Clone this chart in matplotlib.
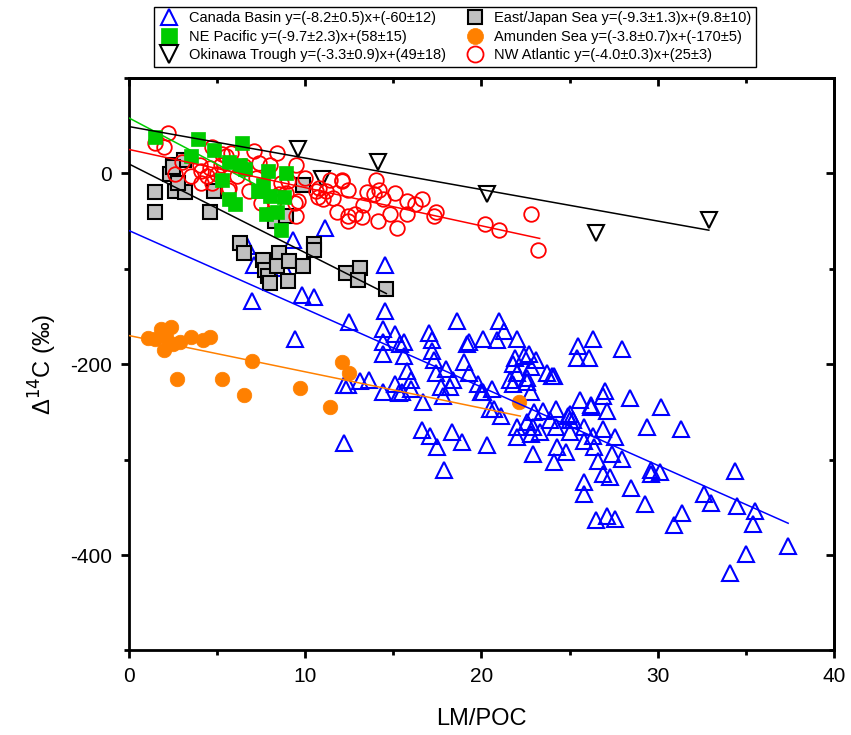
import numpy as np
import matplotlib
matplotlib.use("Agg")
import matplotlib.pyplot as plt

plt.rcParams['font.family'] = ['Liberation Sans', 'DejaVu Sans']
plt.rcParams['axes.unicode_minus'] = False

# ---- data ----
cb_x = [6.7, 7.1, 9.3, 11.1, 7.0, 9.8, 10.5, 8.8, 9.4, 12.5, 14.5, 12.2, 12.4, 12.2, 13.1, 13.6,
        14.4, 14.4, 14.4, 15.1, 15.4, 15.6, 14.4, 15.1, 15.3, 15.8, 17.0, 17.2, 17.2, 17.3, 18.6,
        19.2, 20.1, 20.9, 21.0, 21.3, 22.0, 17.4, 18.0, 19.0, 19.3, 18.2, 17.8, 16.7, 16.0, 16.6,
        17.1, 17.5, 18.3, 18.9, 17.9, 20.3, 20.1, 20.6, 20.7, 21.1, 21.8, 22.0, 21.6, 22.6, 22.4,
        22.0, 22.0, 22.9, 24.1, 25.8, 25.8, 22.9, 23.5, 23.9, 24.3, 24.8, 25.0, 25.8, 25.6, 26.2,
        25.5, 26.3, 26.1, 25.4, 28.0, 24.1, 27.0, 26.9, 28.4, 30.2, 27.1, 24.2, 25.0, 29.4, 31.3,
        26.9, 27.6, 25.0, 24.2, 25.8, 26.4, 27.4, 26.6, 28.0, 29.6, 29.6, 30.1, 26.9, 27.3, 28.5,
        34.4, 32.6, 33.0, 34.5, 35.5, 35.4, 31.4, 30.9, 29.3, 26.5, 27.1, 27.6, 37.4, 35.0, 34.1,
        15.6, 19.3, 21.9, 22.7, 23.1, 23.7, 24.0, 22.8, 21.8, 22.6, 22.8, 18.4, 17.7, 19.8, 20.0,
        16.0, 15.5, 20.5, 22.6, 23.0, 22.8, 23.3, 24.9, 25.2, 26.3, 26.2, 14.5, 8.6]
cb_y = [-76, -96, -70, -57, -134, -128, -130, -99, -174, -156, -144, -283, -222, -222, -218, -217,
        -163, -177, -189, -168, -179, -191, -229, -221, -230, -207, -167, -175, -186, -196, -155,
        -179, -174, -175, -155, -165, -174, -209, -205, -198, -209, -224, -233, -240, -226, -269,
        -275, -287, -271, -282, -311, -285, -229, -226, -247, -254, -200, -209, -217, -214, -191,
        -266, -276, -294, -303, -323, -336, -266, -249, -259, -287, -292, -259, -266, -238, -245,
        -181, -174, -193, -193, -184, -212, -228, -233, -235, -245, -249, -247, -252, -266, -268,
        -268, -276, -271, -266, -280, -287, -294, -301, -299, -311, -315, -313, -315, -318, -330,
        -312, -336, -345, -349, -354, -367, -356, -368, -347, -363, -359, -362, -391, -399, -419,
        -177, -177, -193, -189, -196, -209, -212, -203, -221, -219, -229, -217, -224, -221, -229,
        -217, -229, -247, -261, -250, -273, -271, -254, -259, -275, -243, -96, -87]

ej_x = [1.5, 1.5, 2.5, 2.3, 3.1, 2.6, 3.2, 2.8, 4.6, 4.8, 6.3, 6.5, 7.6, 7.7, 7.9, 8.0, 8.5, 8.4,
        9.1, 9.9, 9.0, 10.5, 10.5, 8.3, 8.9, 9.9, 12.3, 13.1, 13.0, 14.6, 2.5]
ej_y = [-20, -40, 9, -1, 14, -19, -20, -10, -41, -19, -73, -84, -91, -101, -108, -115, -83, -97,
        -92, -97, -113, -74, -80, -50, -45, -12, -104, -99, -112, -121, 7]

ne_x = [1.5, 3.9, 6.4, 3.5, 4.8, 5.7, 6.3, 6.6, 5.3, 7.9, 8.9, 7.6, 7.4, 8.0, 8.8, 5.7, 6.0, 7.8,
        8.4, 8.6, 7.3]
ne_y = [38, 36, 32, 18, 24, 12, 9, 5, -7, 2, 0, -12, -19, -24, -25, -27, -32, -43, -40, -59, -19]

am_x = [1.1, 1.8, 2.4, 1.5, 2.1, 2.5, 2.0, 2.9, 3.5, 4.2, 4.6, 2.7, 5.3, 6.5, 7.0, 9.7, 11.4,
        12.1, 12.5, 22.1]
am_y = [-173, -163, -161, -174, -172, -179, -185, -177, -171, -175, -171, -216, -216, -232, -197,
        -225, -245, -198, -209, -240]

ok_x = [9.6, 10.95, 14.1, 20.3, 26.5, 32.9]
ok_y = [26, -6, 12, -22, -62, -49]

nw_x = [2.2, 1.5, 2.0, 2.6, 3.5, 4.0, 4.7, 4.6, 5.3, 5.8, 4.4, 5.0, 5.6, 6.1, 6.8, 7.1, 7.4, 8.0,
        8.4, 8.5, 8.9, 9.5, 10.0, 9.4, 9.5, 8.2, 7.5, 10.8, 11.4, 11.6, 12.1, 12.4, 11.8, 12.4,
        12.4, 13.3, 12.8, 14.0, 13.9, 14.4, 14.1, 14.8, 15.1, 15.2, 10.7, 14.2, 13.2, 15.8, 16.6,
        16.2, 15.8, 17.4, 17.3, 20.2, 21.0, 22.8, 23.2, 4.1, 4.7, 4.1, 5.5, 5.2, 5.7, 8.6, 9.6,
        10.6, 11.0, 12.1, 3.0, 6.5, 7.2, 9.0, 11.2, 13.5]
nw_y = [42, 32, 28, -1, -3, 9, 28, 6, 20, 21, -3, -1, -17, -3, -19, 23, 11, 9, 21, -22, -21, 9,
        -5, -31, -45, -29, -31, -15, -7, -26, -7, -17, -41, -45, -50, -33, -43, -7, -22, -27, -50,
        -43, -21, -57, -25, -17, -46, -29, -27, -32, -43, -41, -45, -53, -59, -43, -80, -10, -10,
        2, 18, 9, -15, -10, -29, -19, -27, -8, 12, 8, -5, -8, -18, -20]

# fitted lines: slope, intercept, x extent
fit_slope = {'cb': -8.2, 'ne': -9.7, 'ok': -3.3, 'ej': -9.3, 'am': -3.8, 'nw': -4.0}
fit_icpt = {'cb': -60, 'ne': 58, 'ok': 49, 'ej': 9.8, 'am': -170, 'nw': 25}
fit_xmax = {'cb': 37.4, 'ne': 9.0, 'ok': 32.9, 'ej': 14.6, 'am': 22.2, 'nw': 23.3}

labels = {
    'cb': 'Canada Basin y=(-8.2±0.5)x+(-60±12)',
    'ne': 'NE Pacific y=(-9.7±2.3)x+(58±15)',
    'ok': 'Okinawa Trough y=(-3.3±0.9)x+(49±18)',
    'ej': 'East/Japan Sea y=(-9.3±1.3)x+(9.8±10)',
    'am': 'Amunden Sea y=(-3.8±0.7)x+(-170±5)',
    'nw': 'NW Atlantic y=(-4.0±0.3)x+(25±3)',
}
line_col = {'cb': '#0000FF', 'ne': '#00CC00', 'ok': 'black', 'ej': 'black', 'am': '#FF8000', 'nw': '#FF0000'}

fig = plt.figure(figsize=(8.51, 7.35), dpi=100)
ax = fig.add_axes([0.1516, 0.115, 0.8284, 0.779])

h = {}
h['cb'], = ax.plot(cb_x, cb_y, ls='none', marker='^', ms=11, mfc='none', mec='#0000FF', mew=1.5)
h['ok'], = ax.plot(ok_x, ok_y, ls='none', marker='v', ms=11.5, mfc='none', mec='black', mew=1.5)
h['ej'], = ax.plot(ej_x, ej_y, ls='none', marker='s', ms=9.5, mfc='#C0C0C0', mec='black', mew=1.5)
h['nw'], = ax.plot(nw_x, nw_y, ls='none', marker='o', ms=10.5, mfc='none', mec='#FF0000', mew=1.3)
h['ne'], = ax.plot(ne_x, ne_y, ls='none', marker='s', ms=10.5, mfc='#00CC00', mec='#00CC00', mew=0.5)
h['am'], = ax.plot(am_x, am_y, ls='none', marker='o', ms=10.5, mfc='#FF8000', mec='#FF8000', mew=0.5)

for k in ['cb', 'ne', 'ok', 'ej', 'am', 'nw']:
    xs = np.array([0, fit_xmax[k]])
    ax.plot(xs, fit_slope[k] * xs + fit_icpt[k], color=line_col[k], lw=1.1, zorder=3)

ax.set_xlim(0, 40)
ax.set_ylim(-500, 100)
ax.set_xticks([0, 10, 20, 30, 40])
ax.set_xticks(np.arange(0, 41, 5), minor=True)
ax.set_yticks([-400, -200, 0])
ax.set_yticks(np.arange(-500, 101, 100), minor=True)
ax.tick_params(which='major', direction='out', length=6, width=2, labelsize=15, pad=6)
ax.tick_params(which='minor', direction='out', length=3.5, width=2)
for s in ax.spines.values():
    s.set_linewidth(2)

top = ax.secondary_xaxis('top')
top.set_xticks([0, 10, 20, 30, 40])
top.set_xticks(np.arange(0, 41, 5), minor=True)
top.tick_params(which='major', direction='in', length=6, width=2, labeltop=False)
top.tick_params(which='minor', direction='in', length=3.5, width=2)
right = ax.secondary_yaxis('right')
right.set_yticks([-400, -200, 0])
right.set_yticks(np.arange(-500, 101, 100), minor=True)
right.tick_params(which='major', direction='in', length=6, width=2, labelright=False)
right.tick_params(which='minor', direction='in', length=3.5, width=2)
top.spines['top'].set_linewidth(2)
right.spines['right'].set_linewidth(2)

ax.set_xlabel('LM/POC', fontsize=17, labelpad=16)
ax.set_ylabel('Δ$^{14}$C (‰)', fontsize=17, labelpad=8)

order = ['cb', 'ne', 'ok', 'ej', 'am', 'nw']
leg = fig.legend([h[k] for k in order], [labels[k] for k in order], ncol=2,
                 loc='upper center', bbox_to_anchor=(455 / 851, 1 - 7 / 735),
                 borderaxespad=0, markerscale=1.1,
                 fontsize=10.5, numpoints=1, fancybox=False, framealpha=1,
                 edgecolor='black', labelspacing=0.3, handletextpad=0.6,
                 columnspacing=1.2, borderpad=0.3, handlelength=1.5)
leg.get_frame().set_linewidth(1)

fig.savefig('out.png', dpi=100)
